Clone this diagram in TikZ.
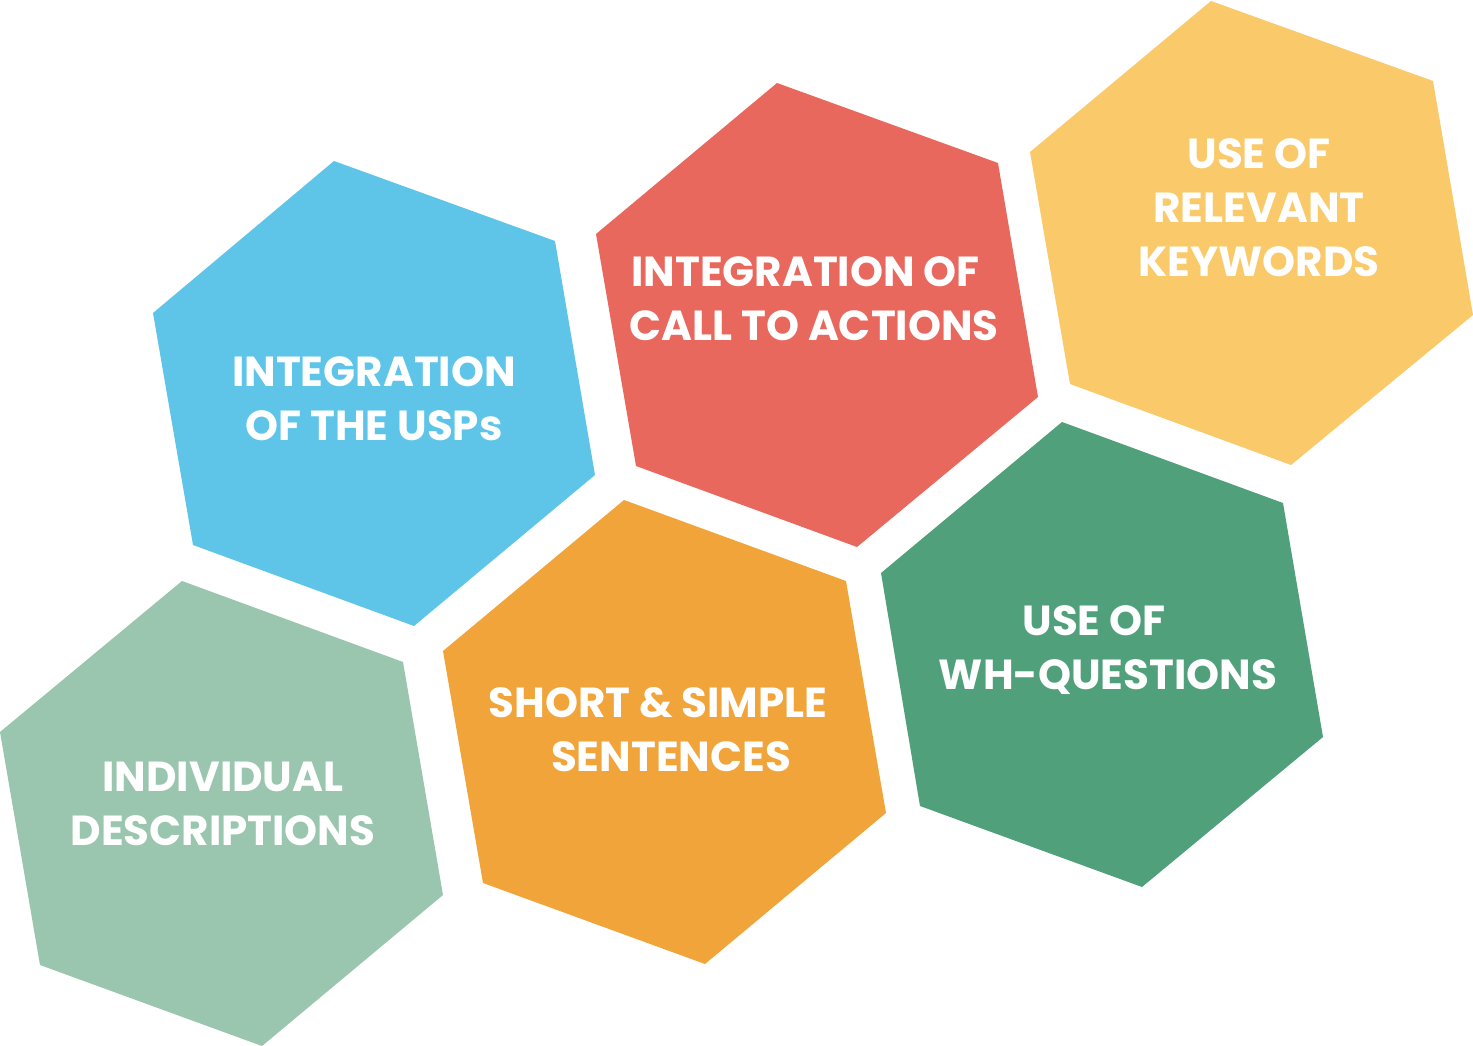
\documentclass[tikz,border=0pt]{standalone}
\usepackage{fontspec}
\setmainfont{Poppins}
\definecolor{hblue}{HTML}{5EC4E8}
\definecolor{hred}{HTML}{E8685E}
\definecolor{hyellow}{HTML}{F9C96A}
\definecolor{hlgreen}{HTML}{9AC5AE}
\definecolor{horange}{HTML}{F0A43A}
\definecolor{hdgreen}{HTML}{50A07B}
\tikzset{
  hexlabel/.style={text=white, align=center, inner sep=0pt,
    font=\fontsize{42}{54}\selectfont\bfseries}
}
\begin{document}
\begin{tikzpicture}[x=1pt,y=-1pt]
\useasboundingbox (0,0) rectangle (1473,1046);
% hexagons
\fill[hblue] (334,161) -- (555,241) -- (595,475) -- (414,626) -- (193,545) -- (153,313) -- cycle;
\fill[hred] (777,83) -- (998,163) -- (1038,397) -- (857,547) -- (636,466) -- (596,234) -- cycle;
\fill[hyellow] (1211,1) -- (1433,81) -- (1473,315) -- (1291,465) -- (1070,384) -- (1030,152) -- cycle;
\fill[hlgreen] (182,581) -- (403,662) -- (443,895) -- (262,1046) -- (40,965) -- (0,732) -- cycle;
\fill[horange] (624,500) -- (846,581) -- (886,813) -- (705,964) -- (483,883) -- (443,651) -- cycle;
\fill[hdgreen] (1062,422) -- (1283,503) -- (1323,737) -- (1142,887) -- (920,806) -- (881,573) -- cycle;
% labels
\node[hexlabel] (usps) at (374,399) {INTEGRATION\\OF THE USPs};
\node[hexlabel] (cta) at (814,299) {\hspace*{-17pt}INTEGRATION OF\\CALL TO ACTIONS};
\node[hexlabel] (kw) at (1259,208) {USE OF\\RELEVANT\\KEYWORDS};
\node[hexlabel] (desc) at (223,804) {INDIVIDUAL\\DESCRIPTIONS};
\node[hexlabel] (short) at (658,730) {SHORT \& SIMPLE\\\hspace*{26pt}SENTENCES};
\node[hexlabel] (wh) at (1108,650) {\hspace*{-28pt}USE OF\\WH-QUESTIONS};
\end{tikzpicture}
\end{document}
